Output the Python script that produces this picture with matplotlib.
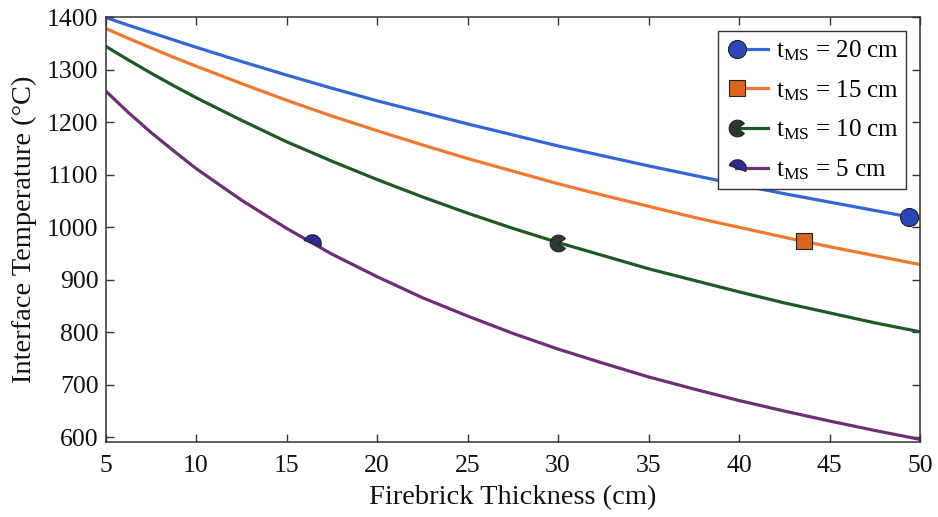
import numpy as np
import matplotlib
matplotlib.use("Agg")
import matplotlib.pyplot as plt
from matplotlib.path import Path
from matplotlib.legend_handler import HandlerLine2DCompound

# Firebrick thickness (cm)
thickness = [5, 6.25, 7.5, 8.75, 10, 12.5, 15, 17.5, 20, 22.5, 25, 27.5, 30,
             32.5, 35, 37.5, 40, 42.5, 45, 47.5, 50]

# Interface temperature (°C) for each mineral-slab thickness
temp_ms20 = [1400, 1385, 1371, 1357, 1343, 1316, 1290, 1265, 1241, 1219, 1197,
             1176, 1155, 1136, 1117, 1099, 1081, 1064, 1048, 1032, 1016]
temp_ms15 = [1379, 1360, 1342, 1324, 1307, 1274, 1242, 1212, 1184, 1157, 1131,
             1107, 1083, 1061, 1040, 1019, 1000, 981, 963, 946, 929]
temp_ms10 = [1345, 1319, 1294, 1270, 1247, 1204, 1163, 1126, 1091, 1058, 1027,
             998, 971, 946, 921, 899, 877, 856, 837, 818, 801]
temp_ms5 = [1260, 1219, 1181, 1146, 1112, 1052, 998, 949, 906, 866, 831,
            798, 768, 741, 715, 692, 670, 650, 631, 613, 596]

# Highlighted operating points on each curve
mark_x = [49.4, 43.6, 30.0, 16.4]
mark_y = [1020, 973, 971, 970]

labels = ["20 cm", "15 cm", "10 cm", "5 cm"]
x_ticks = [5, 10, 15, 20, 25, 30, 35, 40, 45, 50]
y_ticks = [600, 700, 800, 900, 1000, 1100, 1200, 1300, 1400]

plt.rcParams["font.family"] = ["Liberation Serif", "DejaVu Serif"]
plt.rcParams["mathtext.fontset"] = "custom"
plt.rcParams["mathtext.rm"] = "Liberation Serif"
plt.rcParams["mathtext.it"] = "Liberation Serif"

# custom marker shapes
pacman = Path.wedge(35, 325)
dome = Path.wedge(-20, 160)

series = [temp_ms20, temp_ms15, temp_ms10, temp_ms5]
line_colors = ["#3566d6", "#f07830", "#1f5a24", "#6e2f78"]
mark_colors = ["#2a47b8", "#d9651f", "#2b3a2b", "#2d2a92"]
markers = ["o", "s", pacman, dome]
msizes = [13, 11, 12, 13]

fig = plt.figure(figsize=(9.38, 5.17), dpi=100)
ax = fig.add_axes([0.1125, 0.1445, 0.8685, 0.822])

handles = []
for i, ys in enumerate(series):
    ax.plot(thickness, ys, color=line_colors[i], lw=2.3, zorder=2)
    ax.plot([mark_x[i]], [mark_y[i]], linestyle="none", marker=markers[i],
            ms=msizes[i], mfc=mark_colors[i], mec="#222222", mew=0.8, zorder=3)
    h, = ax.plot([], [], color=line_colors[i], lw=2.3, marker=markers[i],
                 ms=msizes[i], mfc=mark_colors[i], mec="#222222", mew=0.8,
                 label=r"$\mathregular{t_{MS}}$ = " + labels[i])
    handles.append(h)


class MarkerAtLeft(HandlerLine2DCompound):
    """Legend entry with the marker sitting at the left end of the line."""
    def get_xdata(self, legend, xdescent, ydescent, width, height, fontsize):
        xdata = np.linspace(-xdescent + 0.25 * width, -xdescent + 1.1 * width, 2)
        return xdata, np.array([-xdescent + 0.3 * width])


ax.set_xlim(5, 50)
ax.set_ylim(590.5, 1400)
ax.set_xticks(x_ticks)
ax.set_yticks(y_ticks)
ax.tick_params(direction="in", top=True, right=True, length=6, width=1,
               labelsize=18.5, labelcolor="#111111", color="#333333")
ax.tick_params(axis="x", pad=9)
ax.tick_params(axis="y", pad=5)
for s in ax.spines.values():
    s.set_color("#333333")
    s.set_linewidth(1.1)

ax.set_xlabel("Firebrick Thickness (cm)", fontsize=20.5, color="#111111", labelpad=6)
ax.set_ylabel("Interface Temperature (°C)", fontsize=20.5, color="#111111", labelpad=7)

leg = ax.legend(handles=handles, loc="upper right", fontsize=18,
                handler_map={h: MarkerAtLeft(numpoints=1) for h in handles},
                handlelength=1.55, handletextpad=0.45, labelspacing=0.6,
                borderpad=0.3, borderaxespad=0.55, fancybox=False,
                edgecolor="#333333", framealpha=1)
leg.get_frame().set_linewidth(1.0)

fig.savefig("out.png", dpi=100)
